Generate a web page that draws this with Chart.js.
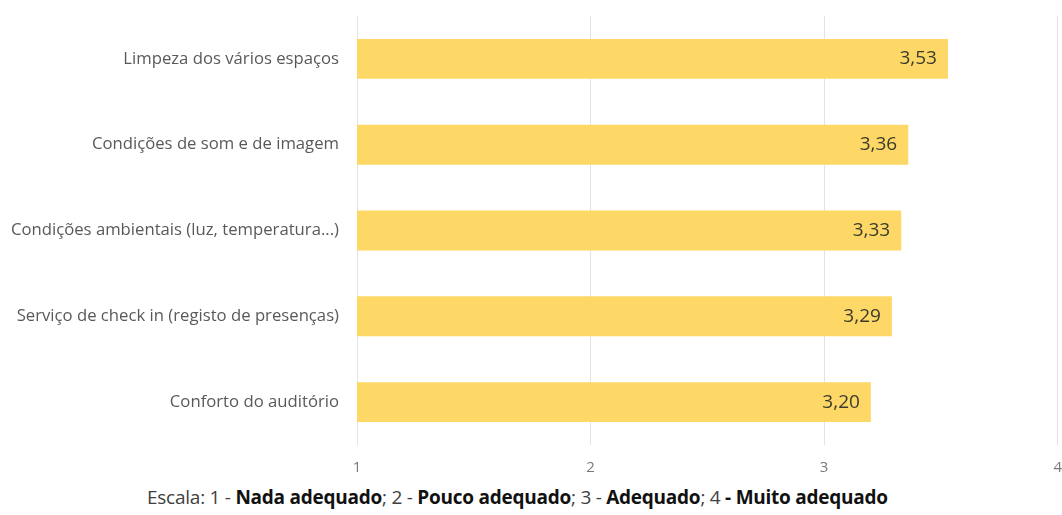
<!DOCTYPE html>
<html>
<head>
<meta charset="utf-8">
<script src="https://cdn.jsdelivr.net/npm/chart.js@4"></script>
<style>
    html, body { margin: 0; padding: 0; background: #fff; }
    #wrap { position: relative; width: 1062px; height: 515px; overflow: hidden; }
    #chart { position: absolute; left: 0; top: -12px; }
    #caption {
        position: absolute; left: 147px; top: 484px;
        font-family: "Open Sans", sans-serif; font-size: 19px;
        color: #404040; white-space: nowrap; letter-spacing: -0.25px;
    }
    #caption b { color: #111; font-weight: 700; }
</style>
</head>
<body>
<div id="wrap">
    <canvas id="chart" width="1076" height="492"></canvas>
    <div id="caption">Escala: 1 - <b>Nada adequado</b>; 2 - <b>Pouco adequado</b>; 3 - <b>Adequado</b>; 4 <b>- Muito adequado</b></div>
</div>
<script>
let categories = [
    "Limpeza dos vários espaços",
    "Condições de som e de imagem",
    "Condições ambientais (luz, temperatura...)",
    "Serviço de check in (registo de presenças)",
    "Conforto do auditório"
];
let scores = [3.53, 3.36, 3.33, 3.29, 3.20];
let axisTicks = [1, 2, 3, 4];

// value label drawn inside the end of each bar, with a decimal comma
const barValues = {
    id: "barValues",
    afterDatasetsDraw(chart) {
        let ctx = chart.ctx;
        let meta = chart.getDatasetMeta(0);
        ctx.save();
        ctx.font = "19px 'Open Sans', sans-serif";
        ctx.fillStyle = "#3b3a2c";
        ctx.textAlign = "right";
        ctx.textBaseline = "middle";
        meta.data.forEach((bar, i) => {
            let txt = scores[i].toFixed(2).replace(".", ",");
            ctx.fillText(txt, bar.x - 11, bar.y);
        });
        ctx.restore();
    }
};

new Chart(document.getElementById("chart"), {
    type: "bar",
    data: {
        labels: categories,
        datasets: [{
            data: scores,
            backgroundColor: "#fdd866",
            borderWidth: 0,
            barPercentage: 0.465,
            categoryPercentage: 1
        }]
    },
    options: {
        indexAxis: "y",
        responsive: false,
        animation: false,
        layout: { padding: { top: 5, right: 7, left: 0, bottom: 0 } },
        plugins: {
            legend: { display: false },
            tooltip: { enabled: false }
        },
        scales: {
            x: {
                min: axisTicks[0],
                max: axisTicks[axisTicks.length - 1],
                afterBuildTicks: axis => { axis.ticks = axisTicks.map(v => ({ value: v })); },
                afterFit: axis => { axis.height = 35; },
                grid: { color: "#e3e3e3", drawTicks: false },
                border: { display: false },
                ticks: {
                    padding: 14,
                    color: "#7a7a7a",
                    font: { family: "'Open Sans', sans-serif", size: 15 }
                }
            },
            y: {
                afterFit: axis => { axis.width = 357; },
                grid: { display: false, drawTicks: false },
                border: { display: false },
                ticks: {
                    padding: 18,
                    color: "#595959",
                    font: { family: "'Open Sans', sans-serif", size: 16.7 }
                }
            }
        }
    },
    plugins: [barValues]
});
</script>
</body>
</html>
